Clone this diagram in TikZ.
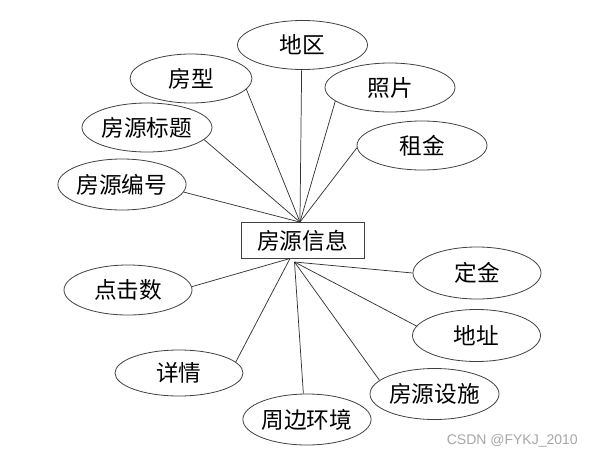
\documentclass[tikz,border=0pt]{standalone}
\usepackage{fontspec}
\newfontfamily\cjk{Noto Sans CJK SC}
\newfontfamily\wm{Liberation Sans}
\usetikzlibrary{shapes.geometric}
\begin{document}
\begin{tikzpicture}[x=0.75pt,y=-0.75pt,
  attr/.style={ellipse, draw=black!75, line width=0.6pt, inner sep=0pt,
    font=\cjk\fontsize{17}{19}\selectfont},
  ent/.style={rectangle, draw=black!75, line width=0.6pt, inner sep=0pt,
    font=\cjk\fontsize{17}{19}\selectfont},
  conn/.style={draw=black!80, line width=0.55pt}]
\useasboundingbox (0,0) rectangle (594,454);
\node[ent, minimum width=92.25pt, minimum height=27pt] (main) at (302.5,240.5) {房源信息};
\node[attr, minimum width=97.5pt, minimum height=36.75pt] (dq) at (302.5,45) {地区};
\node[attr, minimum width=91.5pt, minimum height=36.75pt] (fx) at (191,78.5) {房型};
\node[attr, minimum width=97.5pt, minimum height=36.75pt] (zp) at (390,87.5) {照片};
\node[attr, minimum width=97.5pt, minimum height=36.75pt] (bt) at (147,127.5) {房源标题};
\node[attr, minimum width=97.5pt, minimum height=36.75pt] (zj) at (422,145.5) {租金};
\node[attr, minimum width=96pt, minimum height=38.25pt] (bh) at (122,184.5) {房源编号};
\node[attr, minimum width=96pt, minimum height=37.5pt] (dj) at (128,290) {点击数};
\node[attr, minimum width=96pt, minimum height=39pt] (dk) at (477,273) {定金};
\node[attr, minimum width=96pt, minimum height=39pt] (dz) at (476.5,335.5) {地址};
\node[attr, minimum width=96pt, minimum height=34.5pt] (xq) at (179,373) {详情};
\node[attr, minimum width=96.75pt, minimum height=38.25pt] (ss) at (434.5,394) {房源设施};
\node[attr, minimum width=95.25pt, minimum height=38.25pt] (hj) at (307,419.5) {周边环境};
\coordinate (top) at ([xshift=-1.9pt]main.north);
\coordinate (bl) at (290,258.5);
\coordinate (br) at (294.5,262);
\draw[conn] (top) -- (dq.-92);
\draw[conn] (top) -- (fx.-11.5);
\draw[conn] (top) -- (zp.194.7);
\draw[conn] (top) -- (zj.182);
\draw[conn] (top) -- (bt.-12);
\draw[conn] (top) -- (bh.-7);
\draw[conn] (bl) -- (dj.3);
\draw[conn] (bl) -- (xq.11);
\draw[conn] (br) -- (hj.98);
\draw[conn] (br) -- (ss.166);
\draw[conn] (br) -- (dz.171.5);
\draw[conn] (br) -- (dk.180);
\node[anchor=base east, font=\wm\fontsize{10.5}{12}\selectfont, text=black!35, inner sep=0pt] (wmk) at (578,444) {CSDN @FYKJ\_2010};
\end{tikzpicture}
\end{document}
